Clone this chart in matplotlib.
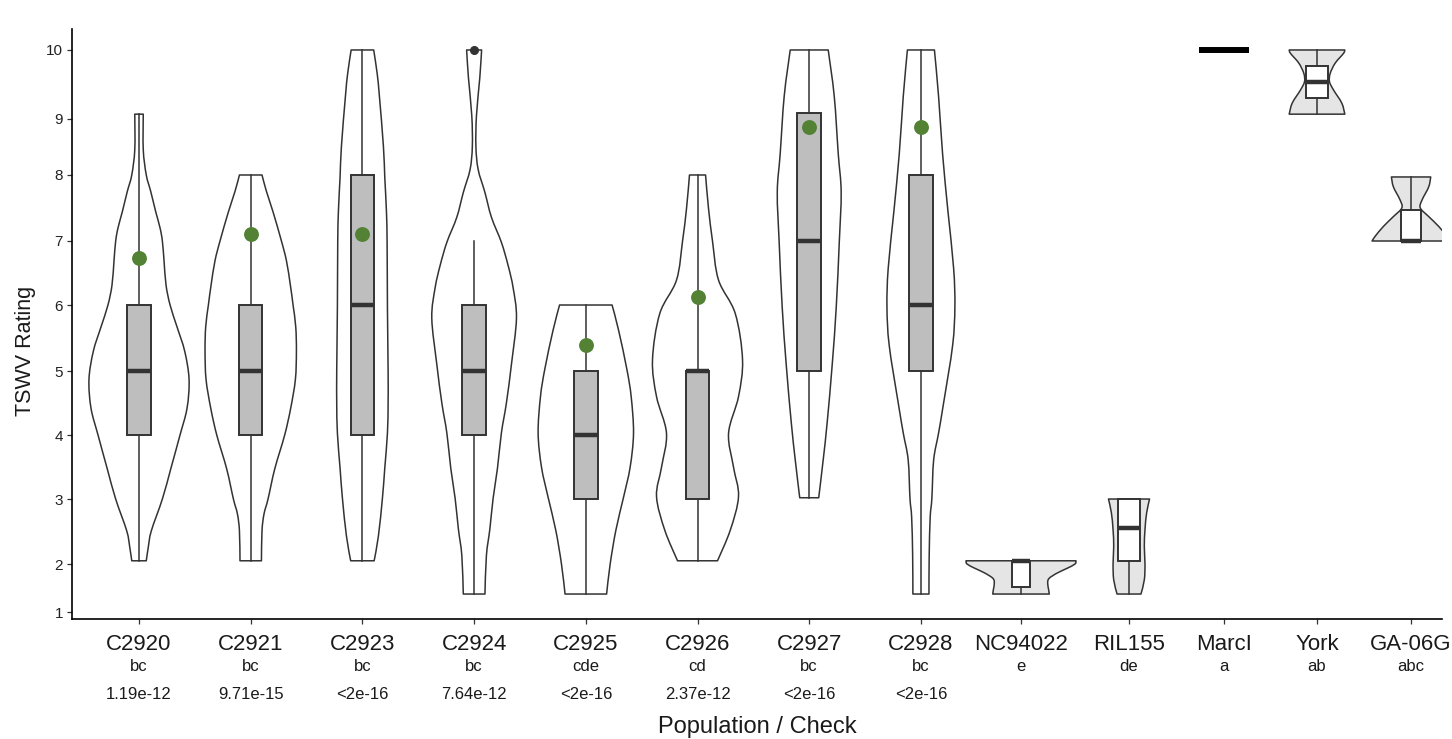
import numpy as np
import matplotlib
matplotlib.use("Agg")
import matplotlib.pyplot as plt
from matplotlib.path import Path
from matplotlib.patches import PathPatch

plt.rcParams["font.family"] = ["Liberation Sans", "DejaVu Sans"]

# populations and checks
groups = ["C2920", "C2921", "C2923", "C2924", "C2925", "C2926", "C2927",
          "C2928", "NC94022", "RIL155", "MarcI", "York", "GA-06G"]
letters = ["bc", "bc", "bc", "bc", "cde", "cd", "bc", "bc",
           "e", "de", "a", "ab", "abc"]
pvalues = ["1.19e-12", "9.71e-15", "<2e-16", "7.64e-12", "<2e-16",
           "2.37e-12", "<2e-16", "<2e-16", "", "", "", "", ""]

# violin outlines: rating levels and half-widths (x units)
violin_y = [
    [2.05, 2.26, 2.51, 3.0, 3.47, 4.0, 4.42, 4.87, 5.3, 5.67, 6.0, 6.31,
     6.69, 7.0, 7.2, 7.44, 7.75, 8.0, 8.45, 9.07],
    [2.05, 2.51, 2.77, 3.0, 3.47, 4.0, 4.42, 4.87, 5.3, 5.67, 6.0, 6.31,
     6.69, 7.0, 7.44, 7.75, 8.0],
    [2.05, 2.43, 3.01, 3.48, 4.03, 4.5, 5.0, 5.97, 6.98, 7.45, 7.97, 8.51,
     9.33, 9.66, 10.0],
    [1.375, 2.13, 2.54, 3.01, 3.48, 4.03, 4.5, 5.1, 5.8, 6.27, 6.62, 6.98,
     7.36, 7.74, 8.1, 8.51, 9.05, 9.6, 10.0],
    [1.375, 2.0, 2.52, 3.03, 3.5, 4.03, 4.6, 5.03, 5.62, 6.0],
    [2.05, 2.52, 3.04, 3.5, 4.03, 4.6, 5.17, 5.87, 6.39, 7.0, 7.5, 8.0],
    [3.02, 3.61, 4.2, 5.1, 5.97, 6.98, 7.74, 8.375, 9.33, 10.0],
    [1.375, 2.13, 2.72, 3.01, 3.61, 4.03, 4.5, 5.39, 5.97, 6.57, 7.45,
     8.375, 9.33, 10.0],
    [1.375, 1.46, 1.6, 1.7, 1.81, 1.91, 2.0, 2.05],
    [1.375, 1.67, 2.0, 2.27, 2.53, 2.79, 3.0],
    [],
    [9.07, 9.23, 9.42, 9.54, 9.66, 9.81, 9.95, 10.0],
    [7.0, 7.07, 7.22, 7.37, 7.5, 7.62, 7.82, 7.97],
]
violin_w = [
    [0.065, 0.083, 0.110, 0.209, 0.284, 0.367, 0.430, 0.448, 0.409, 0.340,
     0.278, 0.242, 0.224, 0.209, 0.188, 0.150, 0.105, 0.065, 0.038, 0.038],
    [0.096, 0.101, 0.119, 0.155, 0.215, 0.304, 0.358, 0.400, 0.409, 0.403,
     0.379, 0.355, 0.320, 0.275, 0.200, 0.141, 0.101],
    [0.105, 0.143, 0.179, 0.200, 0.224, 0.230, 0.230, 0.224, 0.221, 0.215,
     0.200, 0.188, 0.152, 0.132, 0.101],
    [0.097, 0.110, 0.141, 0.170, 0.209, 0.244, 0.289, 0.334, 0.379, 0.349,
     0.304, 0.244, 0.155, 0.096, 0.036, 0.016, 0.021, 0.051, 0.067],
    [0.186, 0.218, 0.269, 0.338, 0.397, 0.427, 0.406, 0.367, 0.293, 0.235],
    [0.179, 0.293, 0.367, 0.322, 0.278, 0.367, 0.403, 0.338, 0.188, 0.134,
     0.098, 0.072],
    [0.085, 0.125, 0.161, 0.206, 0.242, 0.269, 0.286, 0.260, 0.224, 0.170],
    [0.072, 0.074, 0.083, 0.098, 0.114, 0.158, 0.203, 0.284, 0.304, 0.293,
     0.242, 0.194, 0.158, 0.121],
    [0.253, 0.248, 0.239, 0.251, 0.322, 0.412, 0.483, 0.492],
    [0.107, 0.137, 0.143, 0.137, 0.143, 0.158, 0.184],
    [],
    [0.249, 0.222, 0.148, 0.112, 0.118, 0.163, 0.237, 0.249],
    [0.349, 0.322, 0.248, 0.158, 0.083, 0.098, 0.158, 0.176],
]

# box summaries
box_q1 = [4, 4, 4, 4, 3, 3, 5, 5, 1.53, 2.05, 10, 9.31, 7.0]
box_med = [5, 5, 6, 5, 4, 5, 7, 6, 2.05, 2.55, 10, 9.54, 7.0]
box_q3 = [6, 6, 8, 6, 5, 5, 9.09, 8, 2.05, 3.0, 10, 9.77, 7.47]
whisk_lo = [2.05, 2.05, 2.05, 1.375, 1.375, 2.05, 3.02, 1.375, 1.375,
            1.375, 10, 9.07, 7.0]
whisk_hi = [9.07, 8, 10, 7, 6, 8, 10, 10, 2.05, 3.0, 10, 10, 7.97]
outliers = [[], [], [], [10], [], [], [], [], [], [], [], [], []]
means = [6.73, 7.1, 7.1, None, 5.39, 6.12, 8.85, 8.85,
         None, None, None, None, None]

# rating ticks and their height above the x axis (the axis is stretched)
rating_ticks = [1, 2, 3, 4, 5, 6, 7, 8, 9, 10]
rating_height = [7, 55, 120, 184, 248, 314, 378, 444, 500, 569]

# layout
xpos = [0, 1, 2, 3, 4, 5, 6, 7, 7.896, 8.863, 9.713, 10.546, 11.388]
box_width = [0.21] * 8 + [0.158, 0.2, 0.448, 0.2, 0.18]
n_pop = 8

anchor_v = [0] + rating_ticks + [11]
anchor_h = [-41] + rating_height + [638]


def to_axis(v):
    return np.interp(v, anchor_v, anchor_h)


def from_axis(h):
    return np.interp(h, anchor_h, anchor_v)


def smooth_side(xs, hs):
    """Bezier segments (Catmull-Rom) through the outline points of one side."""
    pts = np.column_stack([xs, hs])
    ext = np.vstack([pts[0], pts, pts[-1]])
    verts = []
    for k in range(len(pts) - 1):
        p0, p1, p2, p3 = ext[k], ext[k + 1], ext[k + 2], ext[k + 3]
        verts += [p1 + (p2 - p0) / 6, p2 - (p3 - p1) / 6, p2]
    return verts


def violin_path(x0, ys, ws):
    hs = to_axis(np.asarray(ys, float))
    ws = np.asarray(ws, float)
    left = smooth_side(x0 - ws, hs)
    right = smooth_side((x0 + ws)[::-1], hs[::-1])
    verts = [(x0 - ws[0], hs[0])] + left
    codes = [Path.MOVETO] + [Path.CURVE4] * len(left)
    verts += [(x0 + ws[-1], hs[-1])] + right + [(x0 - ws[0], hs[0])]
    codes += [Path.LINETO] + [Path.CURVE4] * len(right) + [Path.CLOSEPOLY]
    verts = np.array(verts, float)
    verts[:, 1] = from_axis(verts[:, 1])
    return Path(verts, codes)


fig = plt.figure(figsize=(14.52, 7.39), dpi=100)
ax = fig.add_axes([72 / 1452, 1 - 619 / 739, 1370 / 1452, 590 / 739])
ax.set_yscale("function", functions=(to_axis, from_axis))

# violins
for i, (ys, ws) in enumerate(zip(violin_y, violin_w)):
    if not ys:
        continue
    ax.add_patch(PathPatch(violin_path(xpos[i], ys, ws),
                           facecolor="white" if i < n_pop else "#e5e5e5",
                           edgecolor="#333333", linewidth=1.1,
                           joinstyle="round", zorder=1))

# boxes
bstats = []
for i in range(len(groups)):
    bstats.append(dict(q1=box_q1[i], med=box_med[i], q3=box_q3[i],
                       whislo=whisk_lo[i], whishi=whisk_hi[i],
                       fliers=outliers[i]))
bp = ax.bxp(bstats, positions=xpos, widths=box_width, patch_artist=True,
            showcaps=False, showfliers=True, zorder=3,
            boxprops=dict(edgecolor="#333333", linewidth=1.4),
            whiskerprops=dict(color="#333333", linewidth=1.1),
            medianprops=dict(color="#333333", linewidth=3.2,
                             solid_capstyle="butt"),
            flierprops=dict(marker="o", markersize=5.5,
                            markerfacecolor="#333333",
                            markeredgecolor="#333333"))
for i, box in enumerate(bp["boxes"]):
    box.set_facecolor("#bebebe" if i < n_pop else "white")
marci = groups.index("MarcI")
bp["medians"][marci].set_color("black")
bp["medians"][marci].set_linewidth(4.3)
bp["boxes"][marci].set_edgecolor("black")

# means
mx = [xpos[i] for i, m in enumerate(means) if m is not None]
my = [m for m in means if m is not None]
ax.scatter(mx, my, s=115, color="#548235", zorder=4, linewidths=0)

# axes styling
ax.set_xlim(-0.6, 11.665)
ax.set_ylim(0.855, 10.304)
ax.set_yticks(rating_ticks)
ax.set_yticklabels([str(t) for t in rating_ticks])
ax.set_xticks(xpos)
ax.set_xticklabels([])
ax.tick_params(axis="y", length=3.5, width=0.9, pad=3, color="#333333",
               labelsize=11, labelcolor="#222222")
ax.tick_params(axis="x", length=3.5, width=0.9, color="#333333")
for side in ("top", "right"):
    ax.spines[side].set_visible(False)
for side in ("left", "bottom"):
    ax.spines[side].set_linewidth(1.2)
    ax.spines[side].set_color("black")

# category labels under the axis
trans = ax.get_xaxis_transform()
for x, name, let, p in zip(xpos, groups, letters, pvalues):
    ax.text(x, -0.0525, name, transform=trans, ha="center", va="baseline",
            fontsize=16, color="#1a1a1a")
    ax.text(x, -0.0881, let, transform=trans, ha="center", va="baseline",
            fontsize=12, color="#1a1a1a")
    if p:
        ax.text(x, -0.1356, p, transform=trans, ha="center",
                va="baseline", fontsize=12, color="#1a1a1a")

ax.text(0.5, -0.1932, "Population / Check", transform=ax.transAxes,
        ha="center", va="baseline", fontsize=17, color="#1a1a1a")
ax.text(-0.0343, 0.454, "TSWV Rating", transform=ax.transAxes,
        ha="center", va="center", rotation=90, fontsize=15.5,
        color="#1a1a1a")

fig.savefig("out.png", dpi=100)
